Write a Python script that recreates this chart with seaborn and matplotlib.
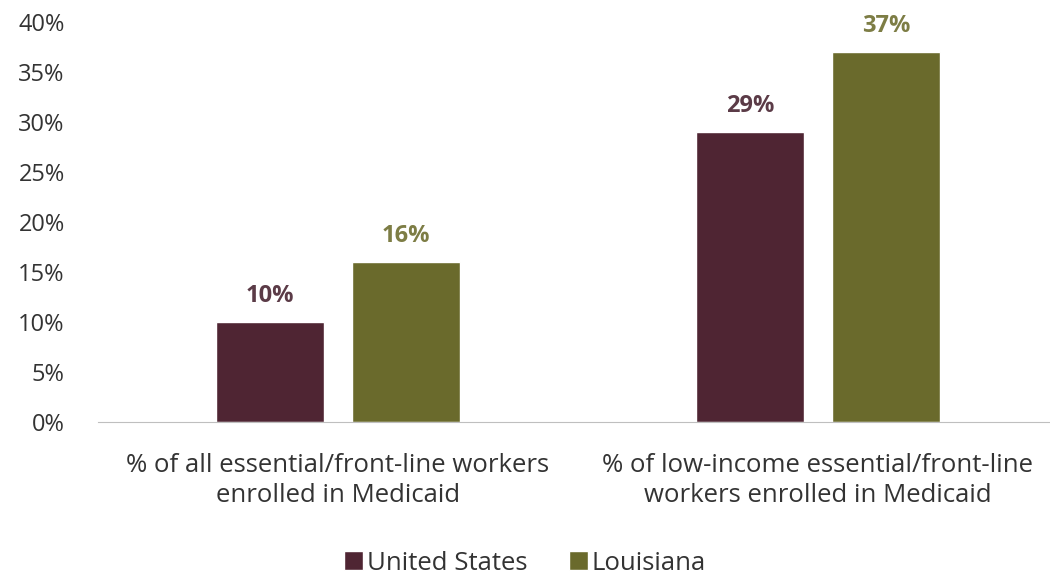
import numpy as np
import pandas as pd
import matplotlib
matplotlib.use("Agg")
import matplotlib.pyplot as plt
import seaborn as sns

categories = ["% of all essential/front-line workers\nenrolled in Medicaid",
              "% of low-income essential/front-line\nworkers enrolled in Medicaid"]
series = ["United States", "Louisiana"]
us_values = [10, 29]
la_values = [16, 37]
colors = ["#4F2533", "#6A6A2C"]
label_colors = ["#5B3B47", "#7D7D45"]

df = pd.DataFrame({
    "category": categories * 2,
    "series": [series[0]] * 2 + [series[1]] * 2,
    "value": us_values + la_values,
})

sns.set_style("white")
plt.rcParams["font.family"] = ["Open Sans", "DejaVu Sans"]

fig = plt.figure(figsize=(10.5, 5.75), dpi=100)
ax = fig.add_axes([98 / 1050, 153 / 575, 960 / 1050, 400 / 575])

sns.barplot(data=df, x="category", y="value", hue="series", palette=colors,
            width=0.567, gap=0.21, ax=ax, legend=True, saturation=1)

for cont, lc in zip(ax.containers, label_colors):
    ax.bar_label(cont, labels=[f"{v:.0f}%" for v in cont.datavalues],
                 padding=10, fontsize=17, fontweight="bold", color=lc)

ax.set_ylim(0, 40)
ax.set_yticks(np.arange(0, 41, 5))
ax.set_yticklabels([f"{t}%" for t in range(0, 41, 5)], fontsize=17, color="#333333")
ax.tick_params(axis="x", labelsize=18.5, labelcolor="#333333", pad=22, length=0)
ax.tick_params(axis="y", length=0, pad=24)
ax.set_xlabel("")
ax.set_ylabel("")
for s in ["top", "right", "left"]:
    ax.spines[s].set_visible(False)
ax.spines["bottom"].set_color("#BFBFBF")
for lbl in ax.get_xticklabels():
    lbl.set_linespacing(1.3)

handles, labels = ax.get_legend_handles_labels()
ax.legend_.remove()
fig.legend(handles, labels, loc="center", bbox_to_anchor=(0.5, 12 / 575), ncol=2,
           frameon=False, fontsize=18.5, handlelength=0.75, handleheight=0.75,
           handletextpad=0.15, columnspacing=1.6, labelcolor="#333333")

fig.savefig("out.png", dpi=100)
